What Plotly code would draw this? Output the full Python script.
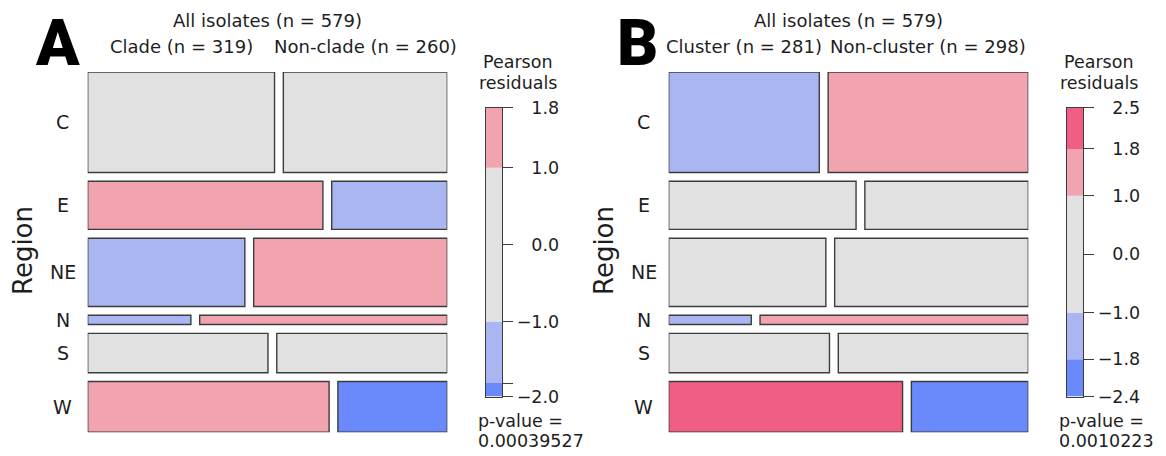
import numpy as np
import plotly.graph_objects as go

# ---------------- data ----------------
regions = ["C", "E", "NE", "N", "S", "W"]
clade = [98, 59, 56, 5, 37, 64]
non_clade = [86, 29, 69, 12, 35, 29]
cluster = [79, 47, 56, 4, 33, 62]
non_cluster = [105, 41, 69, 13, 39, 31]

title_all = "All isolates (n = 579)"
col_labels_A = ["Clade (n = 319)", "Non-clade (n = 260)"]
col_labels_B = ["Cluster (n = 281)", "Non-cluster (n = 298)"]
p_values = ["0.00039527", "0.0010223"]
shade_breaks = [-1.8, -1.0, 1.0, 1.8]
legend_labels_A = ["1.8", "1.0", "0.0", "\u22121.0", "", "\u22122.0"]
legend_labels_B = ["2.5", "1.8", "1.0", "0.0", "\u22121.0", "\u22121.8", "\u22122.4"]

# ---------------- styling ----------------
PAGE = 8                      # default page margin of the html body
W, H = 1166 - PAGE, 456 - PAGE
FONT = "DejaVu Sans"
TXT = "#1e1e1e"
BORDER = "#3c3c3c"
C_GRAY = "#E1E1E1"
C_LPINK = "#F1A3B0"
C_DPINK = "#F05E83"
C_LBLUE = "#AAB6F1"
C_DBLUE = "#6A89FA"


def shade(r):
    if r > 1.8:
        return C_DPINK
    if r > 1.0:
        return C_LPINK
    if r < -1.8:
        return C_DBLUE
    if r < -1.0:
        return C_LBLUE
    return C_GRAY


def fx(px):
    return (px - PAGE) / W


def fy(py):
    return 1 - (py - PAGE) / H


panels = [
    dict(cols=(clade, non_clade), labels=col_labels_A, letter="A", off=0.0,
         pval=p_values[0], ticklabels=legend_labels_A, lx=57),
    dict(cols=(cluster, non_cluster), labels=col_labels_B, letter="B", off=581.0,
         pval=p_values[1], ticklabels=legend_labels_B, lx=637),
]

MX0, MX1 = 87.7, 447.3      # mosaic true extent (px), panel A
MY0, MY1 = 72.0, 432.3
GAP = 8.8                   # px spacing between tiles
LX0, LX1 = 485.7, 502.0     # legend bar (px), panel A
LY0, LY1 = 107.5, 396.5

fig = go.Figure()
layout = dict(
    width=W, height=H, margin=dict(l=0, r=0, t=0, b=0, pad=0, autoexpand=False),
    paper_bgcolor="white", plot_bgcolor="rgba(0,0,0,0)",
    showlegend=False, barmode="overlay",
    font=dict(family=FONT, size=18, color=TXT),
)
annotations = []


def ann(text, x, y, size=18, xanchor="center", **kw):
    d = dict(text=text, x=fx(x), y=fy(y), xref="paper", yref="paper", showarrow=False,
             xanchor=xanchor, yanchor="middle", font=dict(family=FONT, size=size, color=TXT))
    d.update(kw)
    return d


for k, p in enumerate(panels):
    off = p["off"]
    tab = np.array(p["cols"], dtype=float).T          # regions x 2
    n = tab.sum()
    rs = tab.sum(axis=1)
    cs = tab.sum(axis=0)
    exp = np.outer(rs, cs) / n
    res = (tab - exp) / np.sqrt(exp)

    x0, x1 = MX0 + off, MX1 + off
    gx = GAP / (x1 - x0)
    gy = GAP / (MY1 - MY0)
    nr = len(regions)
    heights = (1 - (nr - 1) * gy) * rs / n
    starts = np.concatenate([[0], np.cumsum(heights + gy)[:-1]])
    centers = starts + heights / 2

    xa = "x" if k == 0 else "x2"
    ya = "y" if k == 0 else "y2"
    for j in range(2):
        widths = (1 - gx) * tab[:, j] / rs
        bases = np.zeros(nr) if j == 0 else (1 - gx) * tab[:, 0] / rs + gx
        fig.add_trace(go.Bar(
            orientation="h", y=centers, x=widths, base=bases, width=heights,
            marker=dict(color=[shade(r) for r in res[:, j]],
                        line=dict(color=BORDER, width=1.4)),
            xaxis=xa, yaxis=ya, hoverinfo="skip",
        ))
    sfx = "" if k == 0 else "2"
    layout["xaxis" + sfx] = dict(domain=[fx(x0), fx(x1)], range=[0, 1], visible=False,
                                 anchor=ya, fixedrange=True, automargin=False)
    layout["yaxis" + sfx] = dict(domain=[fy(MY1), fy(MY0)], range=[1, 0], visible=False,
                                 anchor=xa, fixedrange=True, automargin=False)

    # --- legend bar ---
    lo, hi = res.min(), res.max()
    edges = [lo] + [b for b in shade_breaks if lo < b < hi] + [hi]
    seg_lo = np.array(edges[:-1])
    seg_hi = np.array(edges[1:])
    lxa = "x3" if k == 0 else "x4"
    lya = "y3" if k == 0 else "y4"
    fig.add_trace(go.Bar(
        x=[0.5] * len(seg_lo), y=seg_hi - seg_lo, base=seg_lo, width=1.0,
        marker=dict(color=[shade((a + b) / 2) for a, b in zip(seg_lo, seg_hi)],
                    line=dict(width=0)),
        xaxis=lxa, yaxis=lya, hoverinfo="skip",
    ))
    tickvals = [hi] + [b for b in sorted(shade_breaks + [0.0], reverse=True) if lo < b < hi] + [lo]
    ticktext = [("\u2007\u2009" + t) if (t and not t.startswith("\u2212")) else t
                for t in p["ticklabels"]]
    lsfx = "3" if k == 0 else "4"
    layout["xaxis" + lsfx] = dict(domain=[fx(LX0 + off), fx(LX1 + off)], range=[0, 1],
                                  anchor=lya, showline=True, mirror=True, linecolor=BORDER,
                                  linewidth=1.4, showticklabels=False, ticks="",
                                  showgrid=False, zeroline=False, fixedrange=True,
                                  automargin=False)
    layout["yaxis" + lsfx] = dict(domain=[fy(LY1), fy(LY0)], range=[lo, hi], anchor=lxa,
                                  side="right", showline=True, mirror=True, linecolor=BORDER,
                                  linewidth=1.4, ticks="outside", ticklen=10, tickwidth=1.4,
                                  tickcolor=BORDER, tickvals=tickvals, ticktext=ticktext,
                                  tickfont=dict(family=FONT, size=17.5, color=TXT),
                                  showgrid=False, zeroline=False, fixedrange=True,
                                  automargin=False)

    # --- texts ---
    cx = (x0 + x1) / 2
    annotations.append(ann(title_all, cx, 20.5))
    top_w0 = (1 - gx) * tab[0, 0] / rs[0]
    col_centers = [x0 + (x1 - x0) * top_w0 / 2,
                   x0 + (x1 - x0) * ((top_w0 + gx) + 1) / 2]
    for lab, ccx in zip(p["labels"], col_centers):
        annotations.append(ann(lab, ccx, 46))
    for reg, c in zip(regions, centers):
        annotations.append(ann(reg, 62.5 + off, MY0 + (MY1 - MY0) * c, size=19))
    annotations.append(ann("Region", 23 + off, 251, size=26, textangle=-90))
    annotations.append(dict(text=p["letter"], x=fx(p["lx"]), y=fy(43), xref="paper",
                            yref="paper", showarrow=False, xanchor="center", yanchor="middle",
                            font=dict(family="Roboto", size=64, color="black", weight=900)))
    annotations.append(ann("Pearson", 518 + off, 62.5, size=17.5))
    annotations.append(ann("residuals", 518 + off, 83, size=17.5))
    annotations.append(ann("p-value =", 476 + off, 420.5, size=17.5, xanchor="left"))
    annotations.append(ann(p["pval"], 476 + off, 441, size=17.5, xanchor="left"))

layout["annotations"] = annotations
fig.update_layout(**layout)
fig.write_html("out.html")
